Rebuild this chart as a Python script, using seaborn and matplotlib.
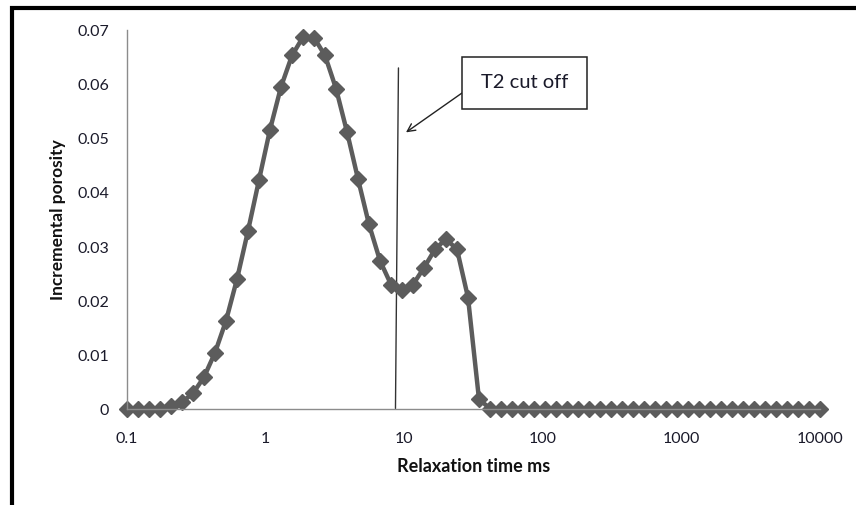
import matplotlib
matplotlib.use("Agg")
import matplotlib.pyplot as plt
from matplotlib.patches import Rectangle
from matplotlib.lines import Line2D
import seaborn as sns
import pandas as pd

# T2 relaxation time bins (ms), log-spaced from 0.1 to 10000
relaxation_ms = [
    0.1, 0.1201, 0.1441, 0.1730, 0.2077, 0.2494, 0.2994, 0.3594,
    0.4314, 0.5180, 0.6218, 0.7465, 0.8962, 1.0758, 1.2916, 1.5505,
    1.8614, 2.2346, 2.6827, 3.2206, 3.8664, 4.6416, 5.5722, 6.6895,
    8.0308, 9.6410, 11.574, 13.895, 16.681, 20.026, 24.041, 28.861,
    34.648, 41.596, 49.936, 59.948, 71.968, 86.397, 103.72, 124.52,
    149.48, 179.45, 215.44, 258.63, 310.49, 372.74, 447.47, 537.19,
    644.90, 774.20, 929.42, 1115.8, 1339.5, 1608.1, 1930.5, 2317.6,
    2782.2, 3340.0, 4009.6, 4813.5, 5778.6, 6937.2, 8328.0, 10000.0,
]

# Incremental porosity per bin
porosity = [
    0.0, 0.0, 0.0, 0.0, 0.0005, 0.0012, 0.0028, 0.0058,
    0.0103, 0.0162, 0.0239, 0.0328, 0.0422, 0.0515, 0.0594, 0.0652,
    0.0686, 0.0685, 0.0652, 0.0591, 0.0511, 0.0424, 0.0340, 0.0273,
    0.0229, 0.0218, 0.0229, 0.0260, 0.0294, 0.0313, 0.0294, 0.0205,
    0.0017, 0.0, 0.0, 0.0, 0.0, 0.0, 0.0, 0.0,
    0.0, 0.0, 0.0, 0.0, 0.0, 0.0, 0.0, 0.0,
    0.0, 0.0, 0.0, 0.0, 0.0, 0.0, 0.0, 0.0,
    0.0, 0.0, 0.0, 0.0, 0.0, 0.0, 0.0, 0.0,
]

x_ticks = [0.1, 1, 10, 100, 1000, 10000]
x_tick_labels = ["0.1", "1", "10", "100", "1000", "10000"]
y_ticks = [0, 0.01, 0.02, 0.03, 0.04, 0.05, 0.06, 0.07]
y_tick_labels = ["0", "0.01", "0.02", "0.03", "0.04", "0.05", "0.06", "0.07"]

# Hand-drawn cut-off line (slightly leaning) and its callout
cutoff_bottom = (8.65, 0.0)
cutoff_top = (9.09, 0.0629)
cutoff_arrow_tip = (10.3, 0.051)
callout_text = "T2 cut off"

sns.set_theme(style="white")
plt.rcParams["font.family"] = ["Lato", "DejaVu Sans"]

W, H = 856, 506
fig = plt.figure(figsize=(W / 100, H / 100), dpi=100)
fig.patch.set_facecolor("white")


def fpx(x, y):
    """Figure pixel position (from top-left) to figure fraction."""
    return x / W, 1 - y / H


ax = fig.add_axes([127 / W, 1 - 409.5 / H, (820 - 127) / W, (409.5 - 30.5) / H])
ax.set_facecolor("white")

df = pd.DataFrame({"t2": relaxation_ms, "phi": porosity})
line_color = "#5c5c5c"
sns.lineplot(
    data=df, x="t2", y="phi", ax=ax, color=line_color, linewidth=3.2,
    marker="D", markersize=7.8, markeredgecolor=line_color,
    markerfacecolor=line_color, markeredgewidth=1.0, clip_on=False,
)

ax.set_xscale("log")
ax.set_xlim(0.1, 10000)
ax.set_ylim(0, 0.07)
ax.set_xticks(x_ticks)
ax.set_xticklabels(x_tick_labels)
ax.minorticks_off()
ax.set_yticks(y_ticks)
ax.set_yticklabels(y_tick_labels)

axis_gray = "#8c8c8c"
for side in ("top", "right"):
    ax.spines[side].set_visible(False)
for side in ("left", "bottom"):
    ax.spines[side].set_color(axis_gray)
    ax.spines[side].set_linewidth(1.0)
ax.tick_params(axis="both", which="major", direction="out", length=4,
               width=1.0, color=axis_gray, labelsize=11.5, labelcolor="#1a1a2a")
ax.tick_params(axis="x", pad=12)
ax.tick_params(axis="y", pad=9)

ax.set_xlabel("Relaxation time ms", fontsize=13, fontweight="bold",
              color="#111111", labelpad=9)
ax.set_ylabel("Incremental porosity", fontsize=12.5, fontweight="bold",
              color="#111111", labelpad=8)
ax.grid(False)

# cut-off line
ax.add_line(Line2D([cutoff_bottom[0], cutoff_top[0]],
                   [cutoff_bottom[1], cutoff_top[1]],
                   color="#333333", linewidth=1.0, zorder=1))

# callout box with arrow
bx0, by0, bx1, by1 = 462, 58, 587, 110
fig.patches.append(Rectangle(fpx(bx0, by1), (bx1 - bx0) / W, (by1 - by0) / H,
                             transform=fig.transFigure, facecolor="white",
                             edgecolor="#222222", linewidth=1.1))
fig.text(*fpx((bx0 + bx1) / 2, 83), callout_text, ha="center", va="center",
         fontsize=14.5, color="#1a1a2a")
ax.annotate("", xy=cutoff_arrow_tip, xycoords="data",
            xytext=fpx(bx0, 94), textcoords="figure fraction",
            arrowprops=dict(arrowstyle="->", color="#222222", lw=1.0,
                            mutation_scale=14, shrinkA=0, shrinkB=0))

# thick outer frame
fig.patches.append(Rectangle(fpx(11.5, 520), (W + 20) / W, (520 - 8.5) / H,
                             transform=fig.transFigure, facecolor="none",
                             edgecolor="black", linewidth=3.0, clip_on=False))

fig.savefig("out.png", dpi=100, facecolor="white")
